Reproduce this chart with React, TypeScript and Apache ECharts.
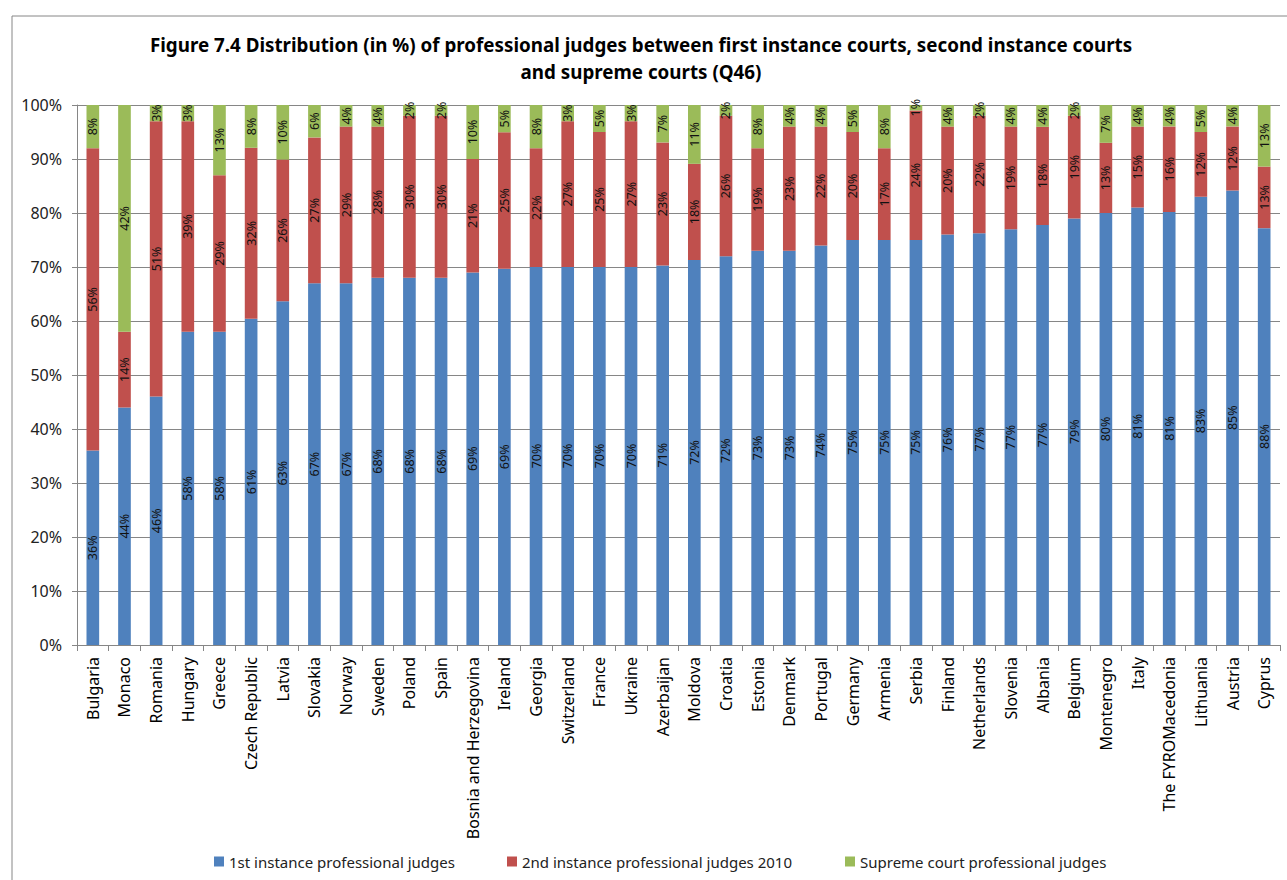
import React, { useEffect, useRef } from "react";
import * as echarts from "echarts";

const categories = [
  "Bulgaria", "Monaco", "Romania", "Hungary", "Greece", "Czech Republic", "Latvia", "Slovakia",
  "Norway", "Sweden", "Poland", "Spain", "Bosnia and Herzegovina", "Ireland", "Georgia",
  "Switzerland", "France", "Ukraine", "Azerbaijan", "Moldova", "Croatia", "Estonia", "Denmark",
  "Portugal", "Germany", "Armenia", "Serbia", "Finland", "Netherlands", "Slovenia", "Albania",
  "Belgium", "Montenegro", "Italy", "The FYROMacedonia", "Lithuania", "Austria", "Cyprus",
];

const firstInstance = [36, 44, 46, 58, 58, 61, 63, 67, 67, 68, 68, 68, 69, 69, 70, 70, 70, 70, 71, 72, 72, 73, 73, 74, 75, 75, 75, 76, 77, 77, 77, 79, 80, 81, 81, 83, 85, 88];
const secondInstance = [56, 14, 51, 39, 29, 32, 26, 27, 29, 28, 30, 30, 21, 25, 22, 27, 25, 27, 23, 18, 26, 19, 23, 22, 20, 17, 24, 20, 22, 19, 18, 19, 13, 15, 16, 12, 12, 13];
const supremeCourt = [8, 42, 3, 3, 13, 8, 10, 6, 4, 4, 2, 2, 10, 5, 8, 3, 5, 3, 7, 11, 2, 8, 4, 4, 5, 8, 1, 4, 2, 4, 4, 2, 7, 4, 4, 5, 4, 13];

const seriesNames = [
  "1st instance professional judges",
  "2nd instance professional judges 2010",
  "Supreme court professional judges",
];
const seriesColors = ["#4F81BD", "#C0504D", "#9BBB59"];
const yTicks = [0, 10, 20, 30, 40, 50, 60, 70, 80, 90, 100];

const FONT = "'Noto Sans', 'Liberation Sans', sans-serif";

export default function App() {
  const ref = useRef<HTMLDivElement>(null);

  useEffect(() => {
    if (!ref.current) return;
    const chart = echarts.init(ref.current, null, { renderer: "svg" });
    const raw = [firstInstance, secondInstance, supremeCourt];
    const totals = categories.map((_, i) => raw[0][i] + raw[1][i] + raw[2][i]);

    const series = raw.map((arr, s) => ({
      name: seriesNames[s],
      type: "bar",
      stack: "total",
      barWidth: "40%",
      itemStyle: { color: seriesColors[s] },
      data: arr.map((v, i) => ({ value: (v / totals[i]) * 100, raw: v })),
      label: {
        show: true,
        position: "inside",
        rotate: 90,
        fontFamily: FONT,
        fontSize: 12.5,
        color: "#111",
        formatter: (p: any) => `${p.data.raw}%`,
      },
    }));

    const legendLefts = [209, 502, 840];

    chart.setOption({
      animation: false,
      backgroundColor: "#fff",
      textStyle: { fontFamily: FONT },
      title: {
        text: "Figure 7.4 Distribution (in %) of professional judges between first instance courts, second instance courts\nand supreme courts (Q46)",
        left: 636,
        top: 26,
        textAlign: "center",
        textStyle: {
          fontFamily: FONT,
          fontSize: 18.8,
          fontWeight: "bold",
          color: "#000",
          lineHeight: 27,
        },
      },
      legend: seriesNames.map((n, i) => ({
        data: [n],
        left: legendLefts[i],
        top: 849,
        icon: "rect",
        itemWidth: 10,
        itemHeight: 10,
        textStyle: { fontFamily: FONT, fontSize: 15, color: "#222" },
        selectedMode: false,
      })),
      grid: { left: 77, right: 7, top: 105, bottom: 235, containLabel: false },
      xAxis: {
        type: "category",
        data: categories,
        axisLine: { lineStyle: { color: "#868686" } },
        axisTick: { show: true, alignWithLabel: false, length: 6, lineStyle: { color: "#868686" } },
        axisLabel: {
          rotate: 90,
          interval: 0,
          fontFamily: FONT,
          fontSize: 16,
          color: "#000",
          margin: 12,
        },
      },
      yAxis: {
        type: "value",
        min: yTicks[0],
        max: yTicks[yTicks.length - 1],
        interval: 10,
        axisLine: { show: true, lineStyle: { color: "#868686" } },
        axisTick: { show: true, length: 5, inside: false, lineStyle: { color: "#868686" } },
        splitLine: { lineStyle: { color: "#868686", width: 1 } },
        axisLabel: {
          formatter: "{value}%",
          fontFamily: FONT,
          fontSize: 16,
          color: "#222",
          margin: 15,
        },
      },
      graphic: [
        {
          type: "rect",
          left: 9.5,
          top: 13.5,
          shape: { width: 1400, height: 1000 },
          style: { fill: "none", stroke: "#868686", lineWidth: 1 },
          silent: true,
          z: -1,
        },
      ],
      series,
    });

    return () => chart.dispose();
  }, []);

  return (
    <div
      ref={ref}
      style={{ position: "absolute", left: 0, top: 0, width: 1287, height: 880 }}
    />
  );
}
